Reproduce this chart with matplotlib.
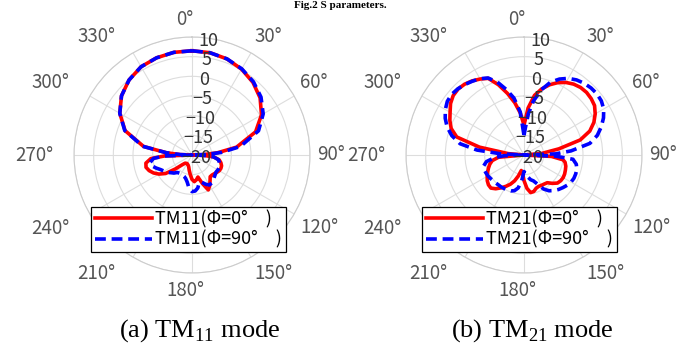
import numpy as np
import matplotlib
matplotlib.use("Agg")
import matplotlib.pyplot as plt
from matplotlib.transforms import offset_copy

plt.rcParams['font.family'] = ['Noto Sans CJK JP', 'DejaVu Sans']
plt.rcParams['mathtext.fontset'] = 'custom'
plt.rcParams['mathtext.rm'] = 'Liberation Serif'

# --- TM11 pattern (dB), angle in degrees, 0 at top, clockwise
ang_tm11_p0 = [0, 10, 20, 30, 40, 50, 60, 70, 80, 85, 88, 90, 92, 95, 100, 105, 110, 115, 120, 125,
               130, 135, 140, 145, 150, 155, 160, 165, 170, 175, 180, 185, 190, 195, 200, 210,
               220, 225, 230, 235, 240, 245, 250, 255, 260, 265, 268, 270, 272, 275, 280,
               290, 300, 310, 320, 330, 340, 350, 360]
db_tm11_p0 = [6.5, 6.4, 6.0, 5.2, 4.1, 2.6, 0.4, -2.8, -8.5, -13.5, -17, -20, -17, -14.5, -13, -12.4, -12, -11.9, -12, -12.3,
              -12.6, -12.8, -12.8, -12, -11, -10.2, -12.3, -14.2, -13.6, -13.2, -13.8, -15, -16, -16.8, -17.2, -17.5,
              -17.3, -16.5, -14.5, -11.8, -10.3, -9.2, -8.4, -7.9, -8.1, -9.5, -13, -20, -17, -13.5, -7.5,
              -1.9, 1.2, 3.4, 4.9, 5.9, 6.3, 6.5, 6.5]

ang_tm11_p90 = ang_tm11_p0
db_tm11_p90 = [6.5, 6.4, 6.0, 5.3, 4.3, 2.9, 0.9, -2.0, -7.5, -12.5, -16.5, -20, -17, -14.5, -13.2, -12.8, -12.5, -12.4, -12.4, -12.5,
               -12.3, -12, -11.6, -11.3, -11.2, -11.8, -12.6, -12.8, -11.5, -10.8, -10.7, -11.5, -13, -13.8, -14.2, -14.5,
               -14.2, -13.5, -13, -12.3, -11.8, -11.2, -10.3, -9.4, -9.2, -10.2, -13, -20, -17, -13.5, -7.3,
               -1.8, 1.2, 3.4, 4.9, 5.9, 6.3, 6.5, 6.5]

# --- TM21 pattern (dB)
ang_tm21_p0 = [0, 5, 10, 15, 20, 25, 30, 35, 40, 45, 50, 55, 60, 65, 70, 75, 80, 85, 90, 93, 97,
               100, 105, 110, 115, 120, 125, 130, 135, 140, 145, 150, 155, 160, 165, 170, 175,
               180, 185, 190, 195, 200, 205, 210, 215, 220, 225, 230, 235, 240, 245, 250, 255,
               260, 265, 270, 275, 280, 285, 290, 295, 300, 305, 310, 315, 320, 325, 330, 335,
               340, 345, 350, 355, 360]
db_tm21_p0 = [-12.4, -8, -4.6, -2.6, -1.0, 0.3, 1.3, 2.0, 2.4, 2.5, 2.3, 1.9, 0.9, -0.4, -2.2, -5.2, -11, -15.5, -20, -13, -10,
              -9.4, -9.0, -8.8, -8.6, -8.5, -8.6, -8.9, -9.8, -10.8, -11, -11.1, -11.2, -11, -10.4, -10.3, -11.5,
              -13.5, -15.5, -16, -14.5, -13, -11.8, -10.8, -9.8, -8.8, -8.1, -8.2, -8.6, -9.2, -9.8, -10.4, -11,
              -11.8, -13.5, -20, -16, -8.5, -2.3, -0.3, 0.8, 1.7, 2.8, 3.5, 3.7, 3.5, 3.0, 2.3, 1.5,
              -1.0, -3.8, -6.5, -9.3, -12.4]

ang_tm21_p90 = [0, 3, 6, 10, 15, 20, 25, 30, 35, 40, 45, 50, 55, 60, 65, 70, 75, 80, 85, 88, 90, 92, 95,
                100, 105, 110, 115, 120, 125, 130, 135, 140, 145, 150, 155, 160, 165, 170, 175,
                180, 185, 190, 195, 200, 205, 210, 215, 220, 225, 230, 235, 240, 245, 250, 255,
                260, 265, 268, 270, 273, 276, 280, 285, 290, 295, 300, 305, 310, 315, 320, 325,
                330, 335, 340, 345, 350, 355, 360]
db_tm21_p90 = [-15, -13, -9.5, -6, -2.8, -0.3, 1.3, 2.5, 3.3, 3.8, 4.1, 4.2, 4.0, 3.4, 2.3, 0.9, -0.7, -3, -8, -12, -20, -12, -7.5,
               -6.5, -6.1, -6, -6, -6.2, -6.6, -7.1, -7.6, -8.2, -8.9, -10, -11.8, -13, -13.5, -14.3, -15.3,
               -15.8, -13.5, -11.5, -10.6, -10.3, -10.2, -10.1, -10, -10, -9.9, -9.8, -9.6, -9.4, -9.3, -9.2, -9.4,
               -10.3, -12.5, -15, -20, -14, -8, -3.5, -1, 0.8, 2.1, 3.1, 3.8, 4.0, 3.8, 3.4, 2.9,
               2.4, 1.6, -0.3, -2.8, -5.3, -9, -15]

r_ticks = [-20, -15, -10, -5, 0, 5, 10]
theta_ticks = list(range(0, 360, 30))
panels = [
    ("TM11", ang_tm11_p0, db_tm11_p0, ang_tm11_p90, db_tm11_p90, "(a) TM$_{11}$ mode"),
    ("TM21", ang_tm21_p0, db_tm21_p0, ang_tm21_p90, db_tm21_p90, "(b) TM$_{21}$ mode"),
]

W, H = 686, 344
fig = plt.figure(figsize=(W / 100, H / 100), dpi=100)

centers = [(192, 155), (524, 155)]
R = 118
legend_pos = [(91, 207), (422, 207)]

for i, (mode, a0, d0, a90, d90, caption) in enumerate(panels):
    cx, cy = centers[i]
    ax = fig.add_axes([(cx - R) / W, (H - cy - R) / H, 2 * R / W, 2 * R / H], projection='polar')
    ax.set_theta_zero_location('N')
    ax.set_theta_direction(-1)
    ax.set_rlim(-20, 10)
    ax.set_rticks(r_ticks)
    ax.set_yticklabels([])
    ax.set_thetagrids(theta_ticks, [''] * len(theta_ticks))
    ax.grid(color='#dddddd', linewidth=0.8)
    ax.spines['polar'].set_color('#cccccc')
    ax.spines['polar'].set_linewidth(0.8)

    ax.plot(np.deg2rad(a0), d0, color='red', lw=2.6, label=f"{mode}(Φ=0°\u3000)")
    ax.plot(np.deg2rad(a90), d90, color='blue', lw=2.6, linestyle=(0, (3, 1.6)),
            label=f"{mode}(Φ=90°\u3000)")

    # angle labels: placed just outside the rim, aligned away from the centre
    for a in theta_ticks:
        s, c = np.sin(np.deg2rad(a)), np.cos(np.deg2rad(a))
        px = cx + (R + 7) * s
        py = cy - (R + 7) * c
        if s > 0.01:
            ha = 'left'
        elif s < -0.01:
            ha, px = 'right', px - 14
        else:
            ha, px = 'center', px - 7
        va = 'bottom' if c > 0.01 else ('top' if c < -0.01 else 'center')
        fig.text(px / W, 1 - py / H, f"{a}°", ha=ha, va=va, fontsize=13.5, color='#555555')

    tr = offset_copy(ax.transData, fig=fig, x=4, y=-3, units='dots')
    for t in r_ticks:
        ax.text(np.deg2rad(6), t, str(t).replace('-', '\u2212'), transform=tr,
                ha='center', va='center', fontsize=13, color='#333333', zorder=5)

    lx, ly = legend_pos[i]
    leg = fig.legend(*ax.get_legend_handles_labels(), loc='upper left',
                     bbox_to_anchor=(lx / W, 1 - ly / H), fontsize=13,
                     frameon=True, fancybox=False, framealpha=1, edgecolor='black',
                     handlelength=3.2, handletextpad=0.15, borderpad=0.2,
                     labelspacing=0.1, borderaxespad=0)
    leg.get_frame().set_linewidth(0.9)

    fig.text((cx + 8) / W, 7 / H, caption, ha='center', va='baseline',
             fontsize=19, family='Liberation Serif')

fig.text(340 / W, 1 - 1 / H, "Fig.2 S parameters.", ha='center', va='top',
         fontsize=8, family='Liberation Serif', weight='bold')

fig.savefig("out.png", dpi=100)
